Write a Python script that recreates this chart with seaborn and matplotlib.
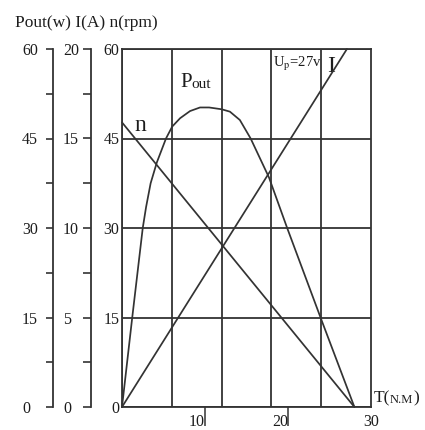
import matplotlib
matplotlib.use("Agg")
import matplotlib.pyplot as plt
from matplotlib.ticker import MultipleLocator, FixedLocator
import seaborn as sns

# Motor characteristics versus load torque T (N.M)
torque_pout = [0, 1.25, 2.5, 2.9, 3.45, 4.2, 5.3, 6.05, 7.0, 8.2, 9.4, 10.5,
               12.0, 13.0, 14.2, 15.5, 17.7, 19.9, 24.0, 28.0]
pout_w = [0, 15.2, 30, 33.5, 37.5, 41, 45, 47, 48.4, 49.6, 50.2, 50.2,
          49.9, 49.5, 48.1, 45, 38.5, 30, 14.7, 0]

torque_speed = [0, 28.0]
speed_rpm = [47.7, 0]

torque_current = [0, 27.1]
current_a = [0, 20]

pout_ticks = [0, 15, 30, 45, 60]
current_ticks = [0, 5, 10, 15, 20]
speed_ticks = [0, 15, 30, 45, 60]
torque_ticks = [10, 20, 30]
torque_tick_labels = ["10", "20", "30"]

sns.set_theme(style="white")
plt.rcParams["font.family"] = ["Liberation Serif", "DejaVu Serif"]
plt.rcParams["mathtext.fontset"] = "stix"

INK = "#1c1c1c"
LINE = "#333333"
TICK_FS = 11.5
CURVE_LW = 1.25

fig = plt.figure(figsize=(4.25, 4.30), dpi=100)
fig.patch.set_facecolor("white")
rect = [122 / 425, 23 / 430, 249 / 425, 358 / 430]

# main panel: speed scale plus grid
ax = fig.add_axes(rect)
ax.set_xlim(0, 30)
ax.set_ylim(0, 60)
ax.set_facecolor("white")
for s in ax.spines.values():
    s.set_color(LINE)
    s.set_linewidth(1.3)
ax.yaxis.set_major_locator(FixedLocator(speed_ticks))
ax.xaxis.set_major_locator(FixedLocator(torque_ticks))
ax.xaxis.set_minor_locator(MultipleLocator(6))
ax.set_xticklabels(torque_tick_labels)
ax.grid(True, which="major", axis="y", color=LINE, lw=1.3)
ax.grid(True, which="minor", axis="x", color=LINE, lw=1.3)
ax.grid(False, which="major", axis="x")
ax.tick_params(axis="y", which="both", left=True, length=0, pad=1.8,
               labelsize=TICK_FS, labelcolor=INK)
ax.tick_params(axis="x", which="major", bottom=True, direction="out", length=14,
               width=1.1, color=LINE, pad=-9, labelsize=TICK_FS, labelcolor=INK)
ax.tick_params(axis="x", which="minor", length=0)
for lbl in ax.get_yticklabels():
    lbl.set_ha("right")
xt = ax.xaxis.get_major_ticks()
xl = ax.get_xticklabels()
for i, (tk, lbl) in enumerate(zip(xt, xl)):
    if i < 2:
        lbl.set_ha("right")
    else:
        lbl.set_ha("center")
        tk.tick1line.set_visible(False)

sns.lineplot(x=torque_speed, y=speed_rpm, ax=ax, color=LINE, lw=CURVE_LW, clip_on=False)


def side_axis(offset, top, ticks, minor, length, pad):
    a = fig.add_axes(rect, sharex=ax)
    a.patch.set_visible(False)
    a.set_ylim(0, top)
    for name, s in a.spines.items():
        s.set_visible(name == "left")
    a.spines["left"].set_position(("axes", offset))
    a.spines["left"].set_color(LINE)
    a.spines["left"].set_linewidth(1.3)
    a.yaxis.set_major_locator(FixedLocator(ticks))
    a.yaxis.set_minor_locator(MultipleLocator(minor))
    a.tick_params(axis="y", which="both", left=True, direction="out", length=length,
                  width=1.2, color=LINE, pad=pad, labelsize=TICK_FS, labelcolor=INK)
    a.tick_params(axis="x", which="both", bottom=False, labelbottom=False)
    a.grid(False)
    for lbl in a.get_yticklabels():
        lbl.set_ha("left")
    return a


ax_i = side_axis(-0.1245, 20, current_ticks, 2.5, 5.8, 14.4)
ax_p = side_axis(-0.2771, 60, pout_ticks, 7.5, 5.0, 17.3)
ax_p.set_xlim(0, 30)

sns.lineplot(x=torque_current, y=current_a, ax=ax_i, color=LINE, lw=CURVE_LW, clip_on=False)
sns.lineplot(x=torque_pout, y=pout_w, ax=ax_p, color=LINE, lw=CURVE_LW, clip_on=False)
for a in (ax, ax_i, ax_p):
    a.set_xlabel("")
    a.set_ylabel("")
    for ln in a.get_lines():
        ln.set_solid_joinstyle("round")


def run(x, y, parts, coords):
    """Write a sequence of (text, size) pieces sharing a baseline."""
    first, fs0 = parts[0]
    prev = ax.text(x, y, first, fontsize=fs0, color=INK, ha="left", va="baseline",
                   transform=coords)
    prev_fs = fs0
    for txt, fs in parts[1:]:
        dy = 0.22 * (prev_fs - fs)
        prev = ax.annotate(txt, xy=(1, 0), xycoords=prev, xytext=(0, dy),
                           textcoords="offset points", fontsize=fs, color=INK,
                           ha="left", va="bottom")
        prev_fs = fs


# header with the three quantity names
fig.text(15 / 425, 1 - 27 / 430, "Pout(w) I(A) n(rpm)", fontsize=12.5, color=INK,
         ha="left", va="baseline")

# curve labels
run(7.0, 53.6, [("P", 15), ("out", 11)], ax.transData)
ax.text(1.5, 46.3, "n", fontsize=17, color=INK, ha="left", va="baseline")
ax.text(18.2, 57.0, r"U$_{\rm p}$=27v", fontsize=10.5, color=INK, ha="left", va="baseline")
ax.text(24.75, 56.1, "I", fontsize=17, color=INK, ha="left", va="baseline")
run(30.3, 0.7, [("T(", 12.5), ("N.M", 9), (")", 12.5)], ax.transData)

fig.savefig("out.png", dpi=100, facecolor="white")
